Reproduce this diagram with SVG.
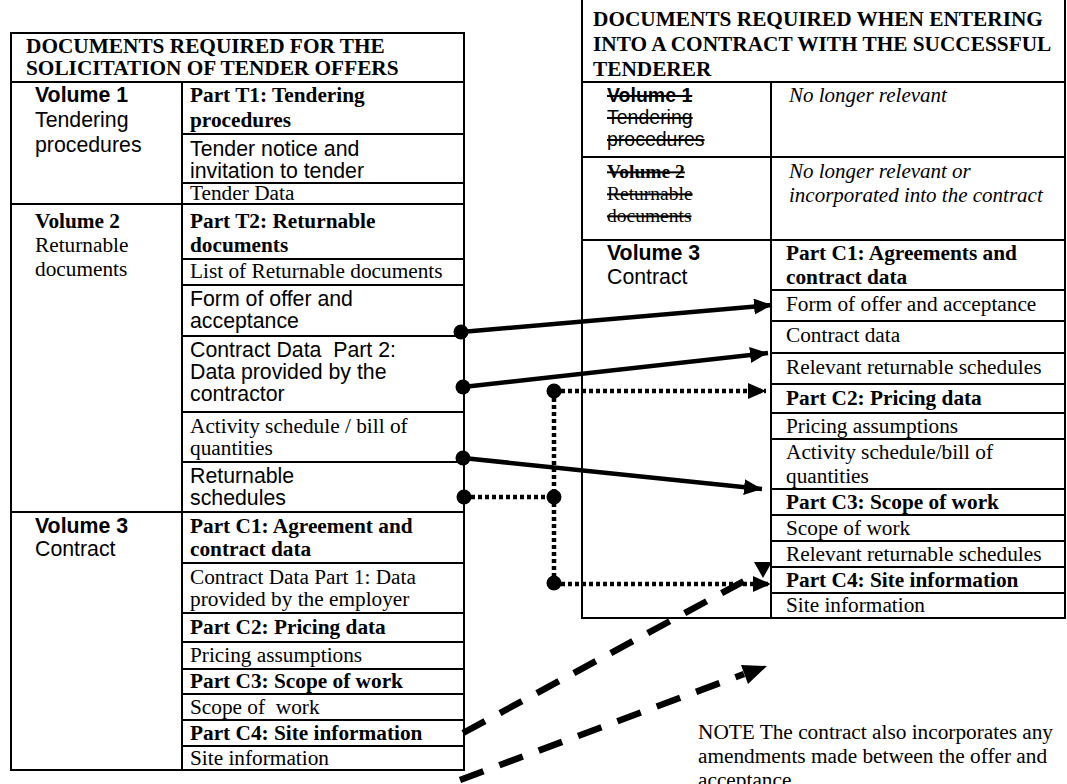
<svg xmlns="http://www.w3.org/2000/svg" width="1067" height="784" viewBox="0 0 1067 784">
<defs>
<style>
.t{font-family:"Liberation Serif","Times New Roman",serif;font-size:21.3px;fill:#000}
.tb{font-family:"Liberation Serif","Times New Roman",serif;font-size:21.3px;font-weight:bold;fill:#000}
.ti{font-family:"Liberation Serif","Times New Roman",serif;font-size:21px;font-style:italic;fill:#000}
.a{font-family:"Liberation Sans",Arial,sans-serif;font-size:21.3px;fill:#000}
.ab{font-family:"Liberation Sans",Arial,sans-serif;font-size:21.3px;font-weight:bold;fill:#000}
.s{text-decoration:line-through;font-size:19.5px}
.ln{stroke:#000;stroke-width:2;fill:none}
.solid{stroke:#000;stroke-width:4.5;fill:none}
.dot{stroke:#000;stroke-width:4.5;fill:none;stroke-dasharray:4 3}
.dash{stroke:#000;stroke-width:6.5;fill:none;stroke-dasharray:25 17}
.blob{fill:#000}
</style>
<marker id="arr" markerUnits="userSpaceOnUse" markerWidth="20" markerHeight="18" refX="18" refY="8" orient="auto" viewBox="0 0 20 18">
<path d="M0,0 L18,8 L0,16 z" fill="#000"/>
</marker>
</defs>
<rect width="1067" height="784" fill="#fff"/>

<!-- LEFT TABLE -->
<g id="left-table">
<rect class="ln" x="11" y="33" width="453" height="737"/>
<line class="ln" x1="11" y1="82" x2="464" y2="82"/>
<line class="ln" x1="182" y1="82" x2="182" y2="770"/>
<text class="tb" x="26" y="53">DOCUMENTS REQUIRED FOR THE</text>
<text class="tb" x="26" y="75">SOLICITATION OF TENDER OFFERS</text>

<g id="left-vol1">
<text class="ab" x="35" y="102">Volume 1</text>
<text class="a" x="35" y="127">Tendering</text>
<text class="a" x="35" y="152">procedures</text>
<g id="l-t1"><text class="tb" x="190" y="102">Part T1: Tendering</text><text class="tb" x="190" y="127">procedures</text></g>
<line class="ln" x1="182" y1="134" x2="464" y2="134"/>
<g id="l-notice"><text class="a" x="190" y="156">Tender notice and</text><text class="a" x="190" y="178">invitation to tender</text></g>
<line class="ln" x1="182" y1="183" x2="464" y2="183"/>
<g id="l-tenderdata"><text class="t" x="190" y="200">Tender Data</text></g>
</g>
<line class="ln" x1="11" y1="204" x2="464" y2="204"/>

<g id="left-vol2">
<text class="tb" x="35" y="228">Volume 2</text>
<text class="t" x="35" y="252">Returnable</text>
<text class="t" x="35" y="276">documents</text>
<g id="l-t2"><text class="tb" x="190" y="228">Part T2: Returnable</text><text class="tb" x="190" y="252">documents</text></g>
<line class="ln" x1="182" y1="259" x2="464" y2="259"/>
<g id="l-list"><text class="t" x="190" y="278">List of Returnable documents</text></g>
<line class="ln" x1="182" y1="285" x2="464" y2="285"/>
<g id="l-form"><text class="a" x="190" y="306">Form of offer and</text><text class="a" x="190" y="328">acceptance</text></g>
<line class="ln" x1="182" y1="336" x2="464" y2="336"/>
<g id="l-cd2"><text class="a" x="190" y="357" xml:space="preserve">Contract Data  Part 2:</text><text class="a" x="190" y="379">Data provided by the</text><text class="a" x="190" y="401">contractor</text></g>
<line class="ln" x1="182" y1="412" x2="464" y2="412"/>
<g id="l-activity"><text class="t" x="190" y="433">Activity schedule / bill of</text><text class="t" x="190" y="455">quantities</text></g>
<line class="ln" x1="182" y1="462" x2="464" y2="462"/>
<g id="l-retsched"><text class="a" x="190" y="483">Returnable</text><text class="a" x="190" y="505">schedules</text></g>
</g>
<line class="ln" x1="11" y1="512" x2="464" y2="512"/>

<g id="left-vol3">
<text class="ab" x="35" y="533">Volume 3</text>
<text class="a" x="35" y="556">Contract</text>
<g id="l-c1"><text class="tb" x="190" y="533">Part C1: Agreement and</text><text class="tb" x="190" y="556">contract data</text></g>
<line class="ln" x1="182" y1="563" x2="464" y2="563"/>
<g id="l-cd1"><text class="t" x="190" y="584">Contract Data Part 1: Data</text><text class="t" x="190" y="606">provided by the employer</text></g>
<line class="ln" x1="182" y1="613" x2="464" y2="613"/>
<g id="l-c2"><text class="tb" x="190" y="634">Part C2: Pricing data</text></g>
<line class="ln" x1="182" y1="642" x2="464" y2="642"/>
<g id="l-pricing"><text class="t" x="190" y="662">Pricing assumptions</text></g>
<line class="ln" x1="182" y1="669" x2="464" y2="669"/>
<g id="l-c3"><text class="tb" x="190" y="688">Part C3: Scope of work</text></g>
<line class="ln" x1="182" y1="694" x2="464" y2="694"/>
<g id="l-scope"><text class="t" x="190" y="714" xml:space="preserve">Scope of  work</text></g>
<line class="ln" x1="182" y1="720" x2="464" y2="720"/>
<g id="l-c4"><text class="tb" x="190" y="740">Part C4: Site information</text></g>
<line class="ln" x1="182" y1="746" x2="464" y2="746"/>
<g id="l-site"><text class="t" x="190" y="765">Site information</text></g>
</g>
</g>

<!-- RIGHT TABLE -->
<g id="right-table">
<rect class="ln" x="582" y="-5" width="483" height="623"/>
<line class="ln" x1="582" y1="82" x2="1065" y2="82"/>
<line class="ln" x1="771" y1="82" x2="771" y2="618"/>
<text class="tb" x="593" y="26">DOCUMENTS REQUIRED WHEN ENTERING</text>
<text class="tb" x="593" y="51">INTO A CONTRACT WITH THE SUCCESSFUL</text>
<text class="tb" x="593" y="76">TENDERER</text>

<g id="right-vol1">
<text class="ab s" x="607" y="102">Volume 1</text>
<text class="a s" x="607" y="124">Tendering</text>
<text class="a s" x="607" y="146">procedures</text>
<text class="ti" x="789" y="102">No longer relevant</text>
</g>
<line class="ln" x1="582" y1="157" x2="1065" y2="157"/>
<g id="right-vol2">
<text class="tb s" x="607" y="178">Volume 2</text>
<text class="t s" x="607" y="200">Returnable</text>
<text class="t s" x="607" y="222">documents</text>
<text class="ti" x="789" y="178">No longer relevant or</text>
<text class="ti" x="789" y="202">incorporated into the contract</text>
</g>
<line class="ln" x1="582" y1="240" x2="1065" y2="240"/>
<g id="right-vol3">
<text class="ab" x="607" y="260">Volume 3</text>
<text class="a" x="607" y="284">Contract</text>
<g id="r-c1"><text class="tb" x="786" y="260">Part C1: Agreements and</text><text class="tb" x="786" y="284">contract data</text></g>
<line class="ln" x1="771" y1="290" x2="1065" y2="290"/>
<g id="r-form"><text class="t" x="786" y="311">Form of offer and acceptance</text></g>
<line class="ln" x1="771" y1="321" x2="1065" y2="321"/>
<g id="r-cdata"><text class="t" x="786" y="342">Contract data</text></g>
<line class="ln" x1="771" y1="353" x2="1065" y2="353"/>
<g id="r-relevant1"><text class="t" x="786" y="374">Relevant returnable schedules</text></g>
<line class="ln" x1="771" y1="384" x2="1065" y2="384"/>
<g id="r-c2"><text class="tb" x="786" y="405">Part C2: Pricing data</text></g>
<line class="ln" x1="771" y1="413" x2="1065" y2="413"/>
<g id="r-pricing"><text class="t" x="786" y="433">Pricing assumptions</text></g>
<line class="ln" x1="771" y1="439" x2="1065" y2="439"/>
<g id="r-activity"><text class="t" x="786" y="459">Activity schedule/bill of</text><text class="t" x="786" y="483">quantities</text></g>
<line class="ln" x1="771" y1="489" x2="1065" y2="489"/>
<g id="r-c3"><text class="tb" x="786" y="509">Part C3: Scope of work</text></g>
<line class="ln" x1="771" y1="515" x2="1065" y2="515"/>
<g id="r-scope"><text class="t" x="786" y="535">Scope of work</text></g>
<line class="ln" x1="771" y1="541" x2="1065" y2="541"/>
<g id="r-relevant2"><text class="t" x="786" y="561">Relevant returnable schedules</text></g>
<line class="ln" x1="771" y1="567" x2="1065" y2="567"/>
<g id="r-c4"><text class="tb" x="786" y="587">Part C4: Site information</text></g>
<line class="ln" x1="771" y1="593" x2="1065" y2="593"/>
<g id="r-site"><text class="t" x="786" y="612">Site information</text></g>
</g>
</g>

<!-- NOTE -->
<g id="note">
<text class="t" x="698" y="739">NOTE The contract also incorporates any</text>
<text class="t" x="698" y="763">amendments made between the offer and</text>
<text class="t" x="698" y="787">acceptance</text>
</g>

<!-- CONNECTORS -->
<g id="connectors">
<line class="solid" x1="461" y1="332" x2="772" y2="305" marker-end="url(#arr)"/>
<line class="solid" x1="463" y1="387" x2="768" y2="353" marker-end="url(#arr)"/>
<line class="solid" x1="463" y1="458" x2="762" y2="489" marker-end="url(#arr)"/>
<circle class="blob" cx="461" cy="332" r="7.5"/>
<circle class="blob" cx="463" cy="387" r="7.5"/>
<circle class="blob" cx="463" cy="458" r="7.5"/>

<line class="dot" x1="464" y1="497" x2="554" y2="497"/>
<line class="dot" x1="554" y1="391" x2="554" y2="583"/>
<line class="dot" x1="554" y1="391" x2="766" y2="391" marker-end="url(#arr)"/>
<line class="dot" x1="554" y1="584" x2="771" y2="584" marker-end="url(#arr)"/>
<circle class="blob" cx="464" cy="497" r="7.5"/>
<circle class="blob" cx="554" cy="391" r="7.5"/>
<circle class="blob" cx="554" cy="497" r="7.5"/>
<circle class="blob" cx="554" cy="583" r="7.5"/>

<line class="dash" x1="463" y1="733" x2="746" y2="580"/>
<polygon class="blob" points="754,562 772,562 763,578"/>
<line class="dash" x1="460" y1="780" x2="744" y2="674"/>
<polygon class="blob" points="767,666 748,684 741,665"/>
</g>
</svg>
